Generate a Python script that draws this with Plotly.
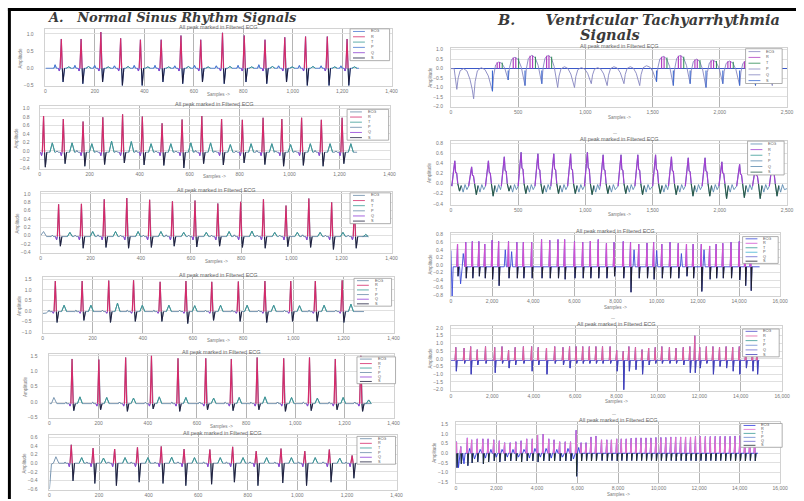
import plotly.graph_objects as go

# ======================= DATA =======================
# ---- A. Normal sinus rhythm panels (x = sample index, y = amplitude) ----
L1_R_X = [64, 144, 224, 304, 384, 468, 548, 628, 716, 804, 888, 968, 1052, 1140, 1220]
L1_R_Y = [0.85, 0.85, 1.05, 0.87, 0.83, 0.83, 0.95, 0.83, 1.03, 0.95, 0.83, 0.90, 0.92, 0.92, 0.85]
L1_S_Y = [-0.40, -0.45, -0.40, -0.50, -0.50, -0.40, -0.45, -0.40, -0.45, -0.40, -0.45, -0.40, -0.50, -0.50, -0.50]
L1_T_Y = [0.04, 0.05, 0.04, 0.05, 0.04, 0.04, 0.05, 0.04, 0.05, 0.04, 0.05, 0.04, 0.05, 0.04, 0.04]
L1_P_Y = [0.10, 0.08, 0.08, 0.07, 0.08, 0.08, 0.07, 0.08, 0.07, 0.08, 0.10, 0.07, 0.08, 0.07, 0.07]
L1_PRE_X, L1_PRE_Y = [], []
L1_END = 1268

L2_R_X = [16, 95, 174, 253, 332, 411, 490, 570, 649, 728, 811, 894, 969, 1048, 1127, 1210]
L2_R_Y = [0.82, 0.75, 0.69, 0.79, 0.86, 0.81, 0.65, 0.74, 0.82, 0.75, 0.73, 0.78, 0.75, 0.78, 0.73, 0.78]
L2_S_Y = [-0.38, -0.30, -0.36, -0.32, -0.28, -0.33, -0.34, -0.40, -0.30, -0.33, -0.28, -0.32, -0.36, -0.34, -0.36, -0.30]
L2_T_Y = [0.22, 0.22, 0.20, 0.26, 0.25, 0.20, 0.20, 0.22, 0.22, 0.18, 0.20, 0.20, 0.18, 0.20, 0.20, 0.20]
L2_P_Y = [0.03, 0.03, 0.04, 0.03, 0.03, 0.04, 0.03, 0.03, 0.04, 0.03, 0.03, 0.04, 0.03, 0.03, 0.04, 0.03]
L2_PRE_X, L2_PRE_Y = [], []
L2_END = 1270

L3_R_X = [72, 163, 254, 344, 435, 526, 616, 707, 798, 889, 979, 1070, 1161, 1252]
L3_R_Y = [0.75, 0.76, 0.87, 0.90, 0.86, 0.82, 0.84, 0.77, 0.81, 0.87, 0.72, 0.89, 0.80, 0.72]
L3_S_Y = [-0.25, -0.30, -0.28, -0.30, -0.28, -0.25, -0.27, -0.25, -0.28, -0.30, -0.26, -0.28, -0.33, -0.30]
L3_T_Y = [0.10, 0.12, 0.12, 0.12, 0.12, 0.10, 0.10, 0.12, 0.13, 0.10, 0.10, 0.10, 0.10, 0.05]
L3_P_Y = [0.03, 0.03, 0.04, 0.03, 0.03, 0.04, 0.03, 0.03, 0.04, 0.03, 0.03, 0.04, 0.03, 0.03]
L3_PRE_X, L3_PRE_Y = [0, 12, 24], [0.0, 0.10, -0.02]
L3_END = 1282

L4_R_X = [51, 158, 264, 363, 469, 572, 675, 781, 887, 990, 1088, 1195]
L4_R_Y = [1.42, 1.42, 1.44, 1.46, 1.38, 1.42, 1.38, 1.40, 1.42, 1.42, 1.42, 1.45]
L4_S_Y = [-0.55, -0.45, -0.55, -0.50, -0.50, -0.60, -0.45, -0.50, -0.55, -0.50, -0.50, -0.55]
L4_T_Y = [0.30, 0.30, 0.40, 0.30, 0.30, 0.28, 0.30, 0.30, 0.30, 0.28, 0.30, 0.35]
L4_P_Y = [0.05, 0.05, 0.06, 0.05, 0.05, 0.06, 0.05, 0.05, 0.06, 0.05, 0.05, 0.06]
L4_PRE_X, L4_PRE_Y = [0, 15], [-0.12, -0.10]
L4_END = 1282

L5_R_X = [92, 201, 310, 415, 523, 636, 740, 845, 953, 1058, 1163, 1267]
L5_R_Y = [1.40, 1.38, 1.45, 1.50, 1.42, 1.42, 1.40, 1.45, 1.42, 1.45, 1.40, 1.50]
L5_S_Y = [-0.28, -0.25, -0.30, -0.22, -0.30, -0.25, -0.28, -0.25, -0.30, -0.28, -0.25, -0.30]
L5_T_Y = [0.22, 0.20, 0.18, 0.22, 0.20, 0.18, 0.20, 0.22, 0.20, 0.18, 0.20, 0.12]
L5_P_Y = [0.04, 0.04, 0.05, 0.04, 0.04, 0.05, 0.04, 0.04, 0.05, 0.04, 0.04, 0.05]
L5_PRE_X, L5_PRE_Y = [0, 8, 18, 30], [-0.05, -0.05, 0.15, -0.05]
L5_END = 1284

L6_R_X = [88, 176, 263, 355, 451, 543, 647, 739, 834, 934, 1030, 1129, 1221]
L6_R_Y = [0.43, 0.35, 0.33, 0.37, 0.39, 0.33, 0.32, 0.38, 0.28, 0.34, 0.28, 0.32, 0.18]
L6_S_Y = [-0.41, -0.47, -0.52, -0.44, -0.47, -0.52, -0.49, -0.44, -0.52, -0.46, -0.52, -0.44, -0.35]
L6_T_Y = [0.13, 0.12, 0.13, 0.13, 0.14, 0.13, 0.13, 0.13, 0.13, 0.13, 0.13, 0.12, 0.10]
L6_P_Y = [0.02, 0.02, 0.03, 0.02, 0.02, 0.03, 0.02, 0.02, 0.03, 0.02, 0.02, 0.03, 0.02]
L6_PRE_X, L6_PRE_Y = [0, 8, 16, 26, 38], [-0.60, -0.02, 0.0, 0.15, 0.0]
L6_END = 1250

# ---- B. Ventricular tachyarrhythmia panels ----
R1_TROUGH_X = [44, 169, 309, 426, 551, 676, 794, 919, 1044, 1162, 1287, 1404, 1529, 1654, 1779, 1897, 2022, 2147, 2265, 2390]
R1_TROUGH_Y = [-1.1, -1.6, -1.2, -0.6, -0.9, -0.8, -1.0, -1.0, -0.8, -0.9, -0.8, -0.9, -0.7, -0.9, -0.8, -1.0, -0.8, -0.9, -0.9, -0.9]
R1_PEAK_Y = [0.0, 0.05, 0.35, 0.6, 0.7, 0.7, 0.1, 0.05, 0.05, 0.1, 0.1, 0.15, 0.65, 0.7, 0.5, 0.45, 0.4, 0.4, 0.4, 0.2]
R1_END = 2450

R2_R_X = [29, 154, 279, 397, 522, 647, 765, 890, 1015, 1132, 1265, 1390, 1522, 1640, 1765, 1890, 2015, 2147, 2265, 2390]
R2_R_Y = [0.45, 0.33, 0.45, 0.53, 0.62, 0.59, 0.59, 0.59, 0.62, 0.57, 0.57, 0.57, 0.57, 0.53, 0.51, 0.51, 0.43, 0.38, 0.33, 0.41]
R2_S_Y = [-0.15, -0.22, -0.25, -0.15, -0.20, -0.20, -0.20, -0.20, -0.22, -0.20, -0.20, -0.22, -0.20, -0.22, -0.25, -0.25, -0.30, -0.28, -0.30, -0.25]
R2_END = 2500

R3_R_X = [322, 721, 1041, 1358, 1646, 2002, 2319, 2800, 3204, 3521, 3925, 4405, 4804, 5203, 5526, 6006, 6405, 6775, 7159, 7558,
          7928, 8375, 8728, 9128, 9528, 9850, 10249, 10649, 11048, 11447, 11770, 12169, 12572, 12889, 13212, 13612, 14011, 14300, 14569]
R3_R_Y = [0.55, 0.60, 0.62, 0.62, 0.55, 0.65, 0.62, 0.62, 0.60, 0.60, 0.60, 0.67, 0.65, 0.67, 0.67, 0.62, 0.60, 0.63, 0.67, 0.57,
          0.60, 0.62, 0.60, 0.55, 0.58, 0.60, 0.55, 0.60, 0.57, 0.55, 0.55, 0.55, 0.50, 0.55, 0.57, 0.60, 0.62, 0.55, 0.50]
R3_S_Y = [-0.30, -0.35, -0.35, -0.30, -0.35, -0.38, -0.55, -0.35, -0.35, -0.35, -0.35, -0.35, -0.35, -0.35, -0.38, -0.35, -0.35, -0.35, -0.35, -0.35,
          -0.30, -0.35, -0.72, -0.35, -0.35, -0.38, -0.35, -0.35, -0.35, -0.30, -0.35, -0.70, -0.38, -0.35, -0.35, -0.35, -0.40, -0.55, -0.68]
R3_EXT_X = [60, 470, 600, 2643, 2950, 8900, 10000, 11200, 12300]
R3_EXT_Y = [-0.85, -0.50, 0.30, 0.40, 0.35, 0.40, 0.38, 0.30, 0.40]
R3_Y0 = 0.38
R3_END = 15000

R4_R_X = [239, 637, 955, 1274, 1672, 2117, 2468, 2786, 3104, 3502, 3900, 4219, 4617, 5015, 5413, 5731, 6050, 6368, 6686, 7005,
          7323, 7689, 8008, 8326, 8597, 8915, 9234, 9552, 9870, 10189, 10555, 10873, 11224, 11542, 11781, 12020, 12338, 12656, 12975, 13293,
          13612, 13930, 14249, 14567, 14790]
R4_R_Y = [0.75, 0.70, 0.80, 0.60, 0.80, 0.75, 0.80, 0.55, 0.75, 0.80, 0.80, 0.75, 0.70, 0.80, 0.75, 0.80, 0.80, 0.80, 0.80, 0.80,
          0.80, 0.80, 0.55, 0.50, 0.80, 0.75, 0.60, 0.70, 0.75, 0.80, 0.75, 0.70, 0.75, 0.80, 1.50, 0.75, 0.80, 0.80, 0.75, 0.80,
          0.75, 0.80, 0.70, 0.60, 0.50]
R4_S_Y = [-0.8, -0.3, -1.0, -0.4, -0.3, -0.9, -0.3, -0.6, -0.4, -0.3, -0.8, -0.4, -1.0, -0.3, -0.4, -0.6, -0.3, -0.3, -0.3, -0.3,
          -0.3, -0.3, -0.8, -2.0, -0.8, -0.7, -1.0, -0.4, -0.3, -0.3, -0.3, -0.3, -0.4, -0.9, -0.9, -0.6, -0.3, -1.0, -0.5, -0.6,
          -0.8, -1.0, -0.6, -0.8, -1.0]
R4_EXT_X, R4_EXT_Y = [], []
R4_Y0 = -0.1
R4_END = 14900

R5_R_X = [33, 244, 569, 780, 1057, 1333, 1593, 1870, 2146, 2406, 2683, 2959, 3219, 3496, 3772, 4032, 4309, 4585, 4845, 5122,
          5398, 5658, 5935, 6179, 6423, 6667, 6911, 7187, 7447, 7675, 7935, 8163, 8406, 8650, 8894, 9138, 9382, 9626, 9870, 10114,
          10358, 10602, 10845, 11089, 11333, 11577, 11821, 12065, 12309, 12553, 12797, 13041, 13284, 13528, 13772, 14016, 14260, 14504, 14748]
R5_R_Y = [0.60, 0.35, 0.80, 0.70, 0.75, 0.75, 0.75, 0.70, 0.65, 0.55, 0.55, 0.60, 0.65, 0.75, 0.75, 0.95, 1.00, 0.75, 0.70, 0.60,
          0.60, 0.60, 1.20, 0.55, 0.55, 0.85, 0.90, 0.70, 0.70, 0.70, 0.75, 0.75, 0.75, 0.78, 0.80, 0.80, 0.80, 0.80, 0.82, 0.82,
          0.82, 0.85, 0.85, 0.85, 0.85, 0.85, 0.87, 0.87, 0.87, 0.87, 0.88, 0.88, 0.88, 0.88, 0.90, 0.90, 0.90, 0.90, 0.90]
R5_S_Y = [-0.75, -0.55, -0.65, -0.50, -0.45, -0.55, -0.45, -0.40, -0.45, -0.40, -0.40, -0.40, -0.45, -0.40, -0.40, -0.45, -0.40, -0.40, -0.40, -0.40,
          -0.40, -0.40, -1.20, -0.40, -0.40, -0.40, -0.40, -0.38, -0.40, -0.38, -0.40, -0.38, -0.40, -0.38, -0.40, -0.38, -0.40, -0.38, -0.40, -0.38,
          -0.40, -0.38, -0.40, -0.38, -0.40, -0.38, -0.40, -0.38, -0.40, -0.38, -0.40, -0.38, -0.40, -0.38, -0.40, -0.38, -0.40, -0.38, -0.40]
R5_EXT_X = [130, 400, 680, 920, 1200, 1460, 1730, 2000, 2280, 2540, 2820, 3090, 3360, 3630, 3900, 4170, 4450, 4710, 4980, 5260, 5530, 5800, 6060]
R5_EXT_Y = [-0.75, -0.55, 0.25, -0.30, 0.20, -0.25, 0.20, -0.20, 0.20, -0.20, 0.20, -0.20, 0.20, -0.25, 0.25, -0.20, 0.25, -0.25, 0.20, -0.20, 0.25, -0.30, 0.30]
R5_Y0 = 0.0
R5_END = 14900

LEGEND_NAMES = ["ECG", "R", "T", "P", "Q", "S"]
PANEL_TITLE = "All peak marked in Filtered ECG"
X_TITLE = "Samples ->"
Y_TITLE = "Amplitude"

# ======================= BUILDERS =======================
W, H = 804, 501


def PX(x):
    return x / W


def PY(y):
    return 1 - y / H


def lin(v1, p1, v2, p2, p):
    return v1 + (p - p1) * (v2 - v1) / (p2 - p1)


def new_seg():
    return {k: ([], []) for k in ("R", "S", "T", "P", "Q")}


def add(seg, k, xs, ys):
    seg[k][0].extend(list(xs) + [None])
    seg[k][1].extend(list(ys) + [None])


def sinus(rx, ry, sy, ty, py, pre_x, pre_y, end, base, toff):
    ex, ey = list(pre_x), list(pre_y)
    if not ex:
        ex, ey = [0], [base]
    seg = new_seg()
    q = base - 0.08
    for r, a, s, t, p in zip(rx, ry, sy, ty, py):
        ex += [r - 30, r - 25, r - 20, r - 12, r - 8, r - 5, r, r + 4, r + 7, r + 13,
               r + toff - 10, r + toff, r + toff + 10]
        ey += [base, base + p, base, base, q, base, a, base, s, base, base, base + t, base]
        add(seg, "P", [r - 30, r - 25, r - 20], [base, base + p, base])
        add(seg, "Q", [r - 12, r - 8, r - 5], [base, q, base])
        add(seg, "R", [r - 5, r, r + 4], [base, a, base])
        add(seg, "S", [r + 4, r + 7, r + 13], [base, s, base])
        add(seg, "T", [r + toff - 10, r + toff, r + toff + 10], [base, base + t, base])
    ex.append(end)
    ey.append(base)
    return (ex, ey), seg


def arches(tx, td, ph, end):
    ex, ey = [0, tx[0] - 20], [0.0, 0.0]
    seg = new_seg()
    n = len(tx)
    for i in range(n):
        t, d, h = tx[i], td[i], ph[i]
        nt = tx[i + 1] if i + 1 < n else end
        nd = td[i + 1] if i + 1 < n else 0.0
        P = nt - t
        for f, v in ((0.0, d), (0.08, d + 0.55 * (h - d)), (0.2, d + 0.9 * (h - d)), (0.4, h),
                     (0.6, nd + 0.92 * (h - nd)), (0.78, nd + 0.65 * (h - nd)), (0.92, nd + 0.3 * (h - nd))):
            ex.append(t + f * P)
            ey.append(v)
        if h > 0.25:
            for f, k, m in ((0.3, "R", 0.97), (0.45, "R", 0.99), (0.62, "T", 0.9)):
                add(seg, k, [t + f * P, t + f * P], [0.0, h * m])
            add(seg, "S", [t, t], [-0.1, d])
    ex.append(end)
    ey.append(0.0)
    return (ex, ey), seg


def vt_peaks(rx, ry, sy, end):
    ex, ey = [0], [0.0]
    seg = new_seg()
    for p, a, d in zip(rx, ry, sy):
        xs = [p - 22, p - 10, p, p + 6, p + 14, p + 22, p + 35, p + 48, p + 62, p + 76, p + 90]
        ys = [-0.05, 0.55 * a, a, 0.5 * a, 0.45 * a, 0.0, d, -0.04, -0.17, -0.02, -0.12]
        ex += xs
        ey += ys
        add(seg, "R", xs[:6], ys[:6])
        add(seg, "S", xs[5:8], ys[5:8])
    ex.append(end)
    ey.append(-0.1)
    return (ex, ey), seg


def spikes(rx, ry, sy, ext_x, ext_y, y0, end, base, w, bw):
    pts = [(0, y0)]
    seg = new_seg()
    for r, a, s in zip(rx, ry, sy):
        pts += [(r - w, base), (r, a), (r + 0.6 * w, s), (r + 1.5 * w, base)]
        xc = r + 0.6 * w * (a - base) / (a - s)
        add(seg, "R", [r - w, r, xc], [base, a, base])
        add(seg, "S", [xc, r + 0.6 * w, r + 1.5 * w], [base, s, base])
    for x, y in zip(ext_x, ext_y):
        pts += [(max(x - bw, 1), base), (x, y), (x + bw, base)]
    pts.append((end, base))
    pts.sort(key=lambda p: p[0])
    return ([p[0] for p in pts], [p[1] for p in pts]), seg


# ======================= PANELS (layout in pixels) =======================
PAL_L1 = dict(ECG="#4a78d0", R="#d42a6a", T="#3a9a96", P="#4a78d0", Q="#8a40d0", S="#1e1e40")
PAL_L = dict(ECG="#6a8aa8", R="#d42a6a", T="#3a9a96", P="#6a8aa8", Q="#9040d8", S="#232340")
PAL_R1 = dict(ECG="#8585c0", R="#b040c0", T="#2a8a50", P="#8585c0", Q="#8585c0", S="#3a6ad0")
PAL_R2 = dict(ECG="#5a8ab0", R="#a040d0", T="#3a9a96", P="#5a8ab0", Q="#5a8ab0", S="#2a5a48")
PAL_R3 = dict(ECG="#3a4ad8", R="#d050d0", T="#3a9a96", P="#40b0d0", Q="#6a6ad0", S="#202030")
PAL_R4 = dict(ECG="#4a4ac8", R="#e060a0", T="#3a9a96", P="#6a8ad0", Q="#6a6ad0", S="#4040b8")
PAL_R5 = dict(ECG="#2a36e0", R="#e070d0", T="#3a9a96", P="#6a8ad0", Q="#6a6ad0", S="#203030")

items = [
    (dict(x0=45, x1=395, xmax=1400, dx=200, top=28, bot=86, ycal=(1.0, 33, -0.5, 85), dy=0.5, ysoff=10, leg=(353, 28, 393, 60), dash=False, zl=False, xt=8),
     sinus(L1_R_X, L1_R_Y, L1_S_Y, L1_T_Y, L1_P_Y, L1_PRE_X, L1_PRE_Y, L1_END, 0.0, 30), PAL_L1),
    (dict(x0=39, x1=393, xmax=1400, dx=200, top=106, bot=169, ycal=(1.0, 108, -0.4, 168), dy=0.2, ysoff=8, leg=(350, 109, 392, 140), dash=False, zl=False, xt=8),
     sinus(L2_R_X, L2_R_Y, L2_S_Y, L2_T_Y, L2_P_Y, L2_PRE_X, L2_PRE_Y, L2_END, -0.03, 35), PAL_L),
    (dict(x0=40, x1=395, xmax=1400, dx=200, top=192, bot=254, ycal=(1.0, 194, -0.4, 253), dy=0.2, ysoff=8, leg=(353, 193, 394, 224), dash=False, zl=False, xt=8),
     sinus(L3_R_X, L3_R_Y, L3_S_Y, L3_T_Y, L3_P_Y, L3_PRE_X, L3_PRE_Y, L3_END, -0.02, 45), PAL_L),
    (dict(x0=42, x1=397, xmax=1400, dx=200, top=278, bot=334, ycal=(1.5, 280, -1.0, 333), dy=0.5, ysoff=9, leg=(357, 279, 395, 307), dash=False, zl=False, xt=8),
     sinus(L4_R_X, L4_R_Y, L4_S_Y, L4_T_Y, L4_P_Y, L4_PRE_X, L4_PRE_Y, L4_END, -0.03, 35), PAL_L),
    (dict(x0=49, x1=397, xmax=1400, dx=200, top=355, bot=420, ycal=(1.5, 357, -0.5, 419), dy=0.5, ysoff=10, leg=(360, 358, 399, 385), dash=False, zl=False, xt=8),
     sinus(L5_R_X, L5_R_Y, L5_S_Y, L5_T_Y, L5_P_Y, L5_PRE_X, L5_PRE_Y, L5_END, -0.05, 32), PAL_L),
    (dict(x0=49, x1=400, xmax=1400, dx=200, top=437, bot=492, ycal=(0.6, 439, -0.6, 491), dy=0.2, ysoff=10, leg=(360, 438, 399, 466), dash=False, zl=False, xt=0),
     sinus(L6_R_X, L6_R_Y, L6_S_Y, L6_T_Y, L6_P_Y, L6_PRE_X, L6_PRE_Y, L6_END, 0.0, 42), PAL_L),
    (dict(x0=455, x1=795, xmax=2500, dx=500, top=47, bot=107, ycal=(1.0, 49, -2.0, 106), dy=0.5, ysoff=6, leg=(753, 48, 790, 83), dash=False, zl=True, xt=10),
     arches(R1_TROUGH_X, R1_TROUGH_Y, R1_PEAK_Y, R1_END), PAL_R1),
    (dict(x0=455, x1=795, xmax=2500, dx=500, top=141, bot=205, ycal=(0.8, 143, -0.4, 204), dy=0.2, ysoff=6, leg=(755, 141, 792, 175), dash=True, zl=False, xt=10),
     vt_peaks(R2_R_X, R2_R_Y, R2_S_Y, R2_END), PAL_R2),
    (dict(x0=455, x1=788, xmax=16000, dx=2000, top=233, bot=297, ycal=(0.8, 235, -0.8, 296), dy=0.2, ysoff=6, leg=(750, 237, 786, 264), dash=False, zl=False, xt=11),
     spikes(R3_R_X, R3_R_Y, R3_S_Y, R3_EXT_X, R3_EXT_Y, R3_Y0, R3_END, -0.05, 40, 50), PAL_R3),
    (dict(x0=455, x1=790, xmax=16000, dx=2000, top=327, bot=392, ycal=(2.0, 329, -2.0, 391), dy=0.5, ysoff=6, leg=(750, 330, 787, 358), dash=True, zl=False, xt=11),
     spikes(R4_R_X, R4_R_Y, R4_S_Y, R4_EXT_X, R4_EXT_Y, R4_Y0, R4_END, -0.1, 40, 50), PAL_R4),
    (dict(x0=460, x1=788, xmax=16000, dx=2000, top=424, bot=485, ycal=(1.5, 426, -1.5, 484), dy=0.5, ysoff=6, leg=(748, 425, 790, 449), dash=True, zl=False, xt=11),
     spikes(R5_R_X, R5_R_Y, R5_S_Y, R5_EXT_X, R5_EXT_Y, R5_Y0, R5_END, 0.0, 40, 60), PAL_R5),
]

fig = go.Figure()
layout = {}
annotations = []
shapes = []
SMALL = "Liberation Sans"

for k, (cfg, (ecg, seg), pal) in enumerate(items):
    n = "" if k == 0 else str(k + 1)
    layout["xaxis" + n] = dict(
        domain=[PX(cfg["x0"]), PX(cfg["x1"])], range=[0, cfg["xmax"]], anchor="y" + n,
        tick0=0, dtick=cfg["dx"], tickformat=",d", showgrid=True, gridcolor="#b4b4b4", gridwidth=0.8,
        zeroline=False, showline=True, linecolor="#d2d2d2", linewidth=0.8, mirror=True, ticks="",
        tickfont=dict(size=5, color="#777", family=SMALL), fixedrange=True)
    yr = [lin(*cfg["ycal"], cfg["bot"]), lin(*cfg["ycal"], cfg["top"])]
    layout["yaxis" + n] = dict(
        domain=[PY(cfg["bot"]), PY(cfg["top"])], range=yr, anchor="x" + n,
        tick0=0, dtick=cfg["dy"], tickformat=".1f", showgrid=True, gridcolor="#e0e0e0", gridwidth=0.8,
        zeroline=cfg["zl"], zerolinecolor="#3a58c8", zerolinewidth=1,
        showline=True, linecolor="#d2d2d2", linewidth=0.8, mirror=True, ticks="",
        ticklabelstandoff=cfg["ysoff"],
        tickfont=dict(size=5, color="#777", family=SMALL), fixedrange=True)

    fig.add_trace(go.Scatter(x=ecg[0], y=ecg[1], mode="lines", line=dict(color=pal["ECG"], width=0.9),
                             xaxis="x" + n, yaxis="y" + n, showlegend=False, hoverinfo="skip"))
    for key, wd in (("T", 1.0), ("P", 0.9), ("Q", 1.0), ("S", 1.1), ("R", 1.2)):
        xs, ys = seg[key]
        if xs:
            fig.add_trace(go.Scatter(x=xs, y=ys, mode="lines", line=dict(color=pal[key], width=wd),
                                     xaxis="x" + n, yaxis="y" + n, showlegend=False, hoverinfo="skip"))

    cx = (cfg["x0"] + cfg["x1"]) / 2
    annotations.append(dict(text=PANEL_TITLE, x=PX(cx), y=PY(cfg["top"] - 2), xref="paper", yref="paper",
                            showarrow=False, xanchor="center", yanchor="middle",
                            font=dict(size=5.5, color="#666", family=SMALL)))
    if cfg["dash"]:
        annotations.append(dict(text="\u2014", x=PX(cx), y=PY(cfg["top"] - 9), xref="paper", yref="paper",
                                showarrow=False, yanchor="middle",
                                font=dict(size=4, color="#555", family=SMALL)))
    if cfg["xt"]:
        annotations.append(dict(text=X_TITLE, x=PX(cx), y=PY(cfg["bot"] + cfg["xt"]), xref="paper", yref="paper",
                                showarrow=False, xanchor="center", yanchor="middle",
                                font=dict(size=4.5, color="#777", family=SMALL)))
    annotations.append(dict(text=Y_TITLE, x=PX(cfg["x0"] - cfg["ysoff"] - 15), y=PY((cfg["top"] + cfg["bot"]) / 2),
                            xref="paper", yref="paper", showarrow=False, textangle=-90,
                            xanchor="center", yanchor="middle",
                            font=dict(size=4.5, color="#777", family=SMALL)))

    l, t, r, b = cfg["leg"]
    shapes.append(dict(type="rect", xref="paper", yref="paper", x0=PX(l), x1=PX(r), y0=PY(b), y1=PY(t),
                       line=dict(color="#9a9a9a", width=0.8), fillcolor="white", layer="above"))
    rh = (b - t) / len(LEGEND_NAMES)
    for i, nm in enumerate(LEGEND_NAMES):
        yy = t + rh * (i + 0.5)
        shapes.append(dict(type="line", xref="paper", yref="paper", x0=PX(l + 3), x1=PX(l + 15),
                           y0=PY(yy), y1=PY(yy), line=dict(color=pal[nm], width=0.8), layer="above"))
        annotations.append(dict(text=nm, x=PX(l + 19), y=PY(yy), xref="paper", yref="paper",
                                showarrow=False, xanchor="left", yanchor="middle",
                                font=dict(size=3.8, color="#555", family=SMALL)))

# main headings
SERIF = "DejaVu Serif"
annotations.append(dict(text="<b><i>A.\u00a0\u00a0\u00a0Normal Sinus Rhythm Signals</i></b>", x=PX(44), y=PY(17),
                        xref="paper", yref="paper", showarrow=False, xanchor="left", yanchor="middle",
                        font=dict(size=13, color="#3a3a3a", family=SERIF)))
annotations.append(dict(text="<b><i>B.\u00a0\u00a0\u00a0\u00a0\u00a0\u00a0Ventricular Tachyarrhythmia</i></b>", x=PX(500), y=PY(19),
                        xref="paper", yref="paper", showarrow=False, xanchor="left", yanchor="middle",
                        font=dict(size=14.5, color="#3a3a3a", family=SERIF)))
annotations.append(dict(text="<b><i>Signals</i></b>", x=PX(616), y=PY(34),
                        xref="paper", yref="paper", showarrow=False, xanchor="center", yanchor="middle",
                        font=dict(size=14.5, color="#3a3a3a", family=SERIF)))

# black frame edges (top and left)
shapes.append(dict(type="rect", xref="paper", yref="paper", x0=PX(7), x1=1, y0=PY(10), y1=PY(7),
                   line=dict(width=0), fillcolor="#000000", layer="above"))
shapes.append(dict(type="rect", xref="paper", yref="paper", x0=PX(7), x1=PX(10), y0=0, y1=PY(7),
                   line=dict(width=0), fillcolor="#000000", layer="above"))

fig.update_layout(width=W, height=H, margin=dict(l=0, r=0, t=0, b=0), autosize=False,
                  paper_bgcolor="white", plot_bgcolor="white", showlegend=False,
                  annotations=annotations, shapes=shapes, **layout)

fig.write_html("out.html", config={"displayModeBar": False},
               post_script="document.body.style.margin='0';document.body.style.padding='0';")
